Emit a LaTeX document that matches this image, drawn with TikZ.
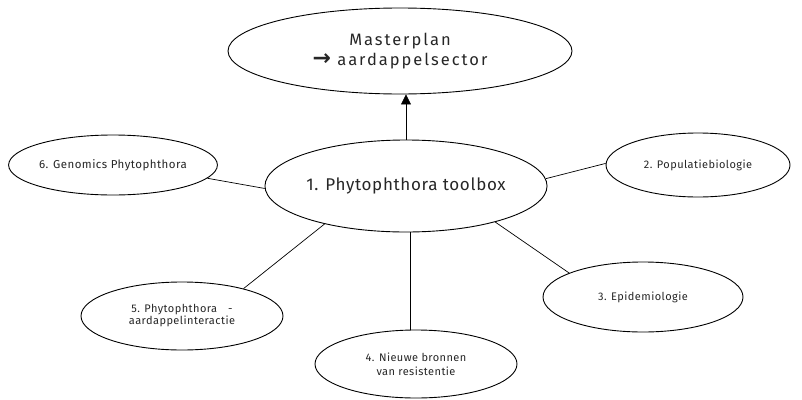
\documentclass[tikz,border=0pt]{standalone}
\usepackage{fontspec}
\setmainfont{Fira Sans}[LetterSpace=4]
\newfontfamily\widefont{Fira Sans}[LetterSpace=12]
\newfontfamily\symfont{DejaVu Sans}
\usetikzlibrary{shapes.geometric,arrows.meta}
\tikzset{
  bubble/.style={draw, ellipse, line width=0.9pt, inner sep=0pt, align=center, text=black!85},
  link/.style={draw, line width=0.7pt},
}
\begin{document}
\begin{tikzpicture}[x=1pt,y=-1pt]
\useasboundingbox (0,0) rectangle (802,399);
\node[bubble, minimum width=344pt, minimum height=86pt, font=\widefont\fontsize{16.5}{21}\selectfont] (mp) at (400,51) {Masterplan\\[-1pt]{\symfont\bfseries\fontsize{22}{18}\selectfont →} aardappelsector};
\node[bubble, minimum width=268pt, minimum height=92pt, font=\fontsize{17}{20}\selectfont] (c) at (406,186) {1. Phytophthora toolbox};
\node[bubble, minimum width=204pt, minimum height=60pt, font=\fontsize{11.5}{14}\selectfont] (g) at (113,165) {6. Genomics Phytophthora};
\node[bubble, minimum width=184pt, minimum height=64pt, font=\fontsize{11}{14}\selectfont] (p) at (698,165) {2. Populatiebiologie};
\node[bubble, minimum width=200pt, minimum height=70pt, font=\fontsize{11}{14}\selectfont] (e) at (643,297) {3. Epidemiologie};
\node[bubble, minimum width=202pt, minimum height=68pt, font=\fontsize{11}{12}\selectfont] (i) at (182,316) {5. Phytophthora\quad -\\aardappelinteractie};
\node[bubble, minimum width=202pt, minimum height=68pt, font=\fontsize{11}{14}\selectfont] (n) at (416,364) {4. Nieuwe bronnen\\van resistentie};
\draw[link, -{Triangle[length=10pt,width=10pt]}] (c.north) -- (c.north |- mp.south);
\draw[link] (g.-8) -- (c.181);
\draw[link] (p.179) -- (c.3);
\draw[link] (e.162) -- (c.338.5);
\draw[link] (i.24) -- (c.205.5);
\draw[link] (c.south) ++(4,0) coordinate (cs) -- (cs |- n.north);
\end{tikzpicture}
\end{document}
